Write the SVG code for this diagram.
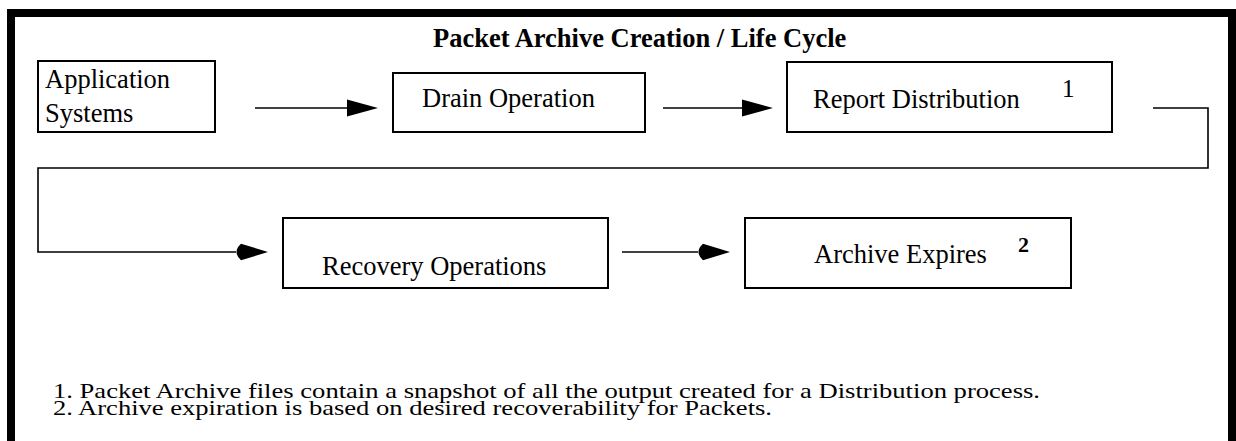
<svg xmlns="http://www.w3.org/2000/svg" width="1236" height="441" viewBox="0 0 1236 441">
<style>
text{font-family:"Liberation Serif","Times New Roman","DejaVu Serif",serif;fill:#000}
.lbl{font-size:26.5px}
.box{fill:#fff;stroke:#000;stroke-width:2}
.ln{fill:none;stroke:#000;stroke-width:1.6}
.note{font-size:21px}
</style>
<defs>
<marker id="tri" markerUnits="userSpaceOnUse" viewBox="0 0 31 17" markerWidth="31" markerHeight="17" refX="0" refY="8.5" orient="auto" overflow="visible">
<path d="M0,0 L31,8.5 L0,17 Z" fill="#000"/>
</marker>
<marker id="dart" markerUnits="userSpaceOnUse" viewBox="0 0 33 17" markerWidth="33" markerHeight="17" refX="1" refY="8.5" orient="auto" overflow="visible">
<path d="M33,8.5 L6,0.3 Q-3,8.5 6,16.7 Z" fill="#000"/>
</marker>
</defs>
<rect x="0" y="0" width="1236" height="441" fill="#fff"/>
<rect id="frame" x="11" y="13" width="1221" height="500" fill="none" stroke="#000" stroke-width="8"/>
<g font-family="Liberation Serif, Times New Roman, serif">
<text id="title" x="433" y="47" font-size="26.5" font-weight="bold">Packet Archive Creation / Life Cycle</text>
<g id="connectors">
<path class="ln" d="M255,108 H347" marker-end="url(#tri)"/>
<path class="ln" d="M663,108 H742" marker-end="url(#tri)"/>
<path class="ln" d="M1153,108 H1208 V168 H38 V252 H236" stroke-width="2" marker-end="url(#dart)"/>
<path class="ln" d="M622,252 H698" marker-end="url(#dart)"/>
</g>
<g id="app">
<rect class="box" x="38" y="61" width="177" height="71"/>
<text class="lbl" x="45" y="88">Application</text>
<text class="lbl" x="45" y="122">Systems</text>
</g>
<g id="drain">
<rect class="box" x="393" y="73" width="252" height="59"/>
<text class="lbl" x="422" y="107">Drain Operation</text>
</g>
<g id="report">
<rect class="box" x="787" y="62" width="325" height="70"/>
<text class="lbl" x="813" y="108">Report Distribution</text>
<text x="1062" y="97" font-size="25">1</text>
</g>
<g id="recovery">
<rect class="box" x="283" y="218" width="325" height="70"/>
<text class="lbl" x="322" y="275">Recovery Operations</text>
</g>
<g id="expires">
<rect class="box" x="745" y="218" width="326" height="70"/>
<text class="lbl" x="814" y="263">Archive Expires</text>
<text x="1018" y="252" font-size="22" font-weight="bold">2</text>
</g>
<g id="notes">
<text class="note" x="53" y="398" textLength="987" lengthAdjust="spacingAndGlyphs">1. Packet Archive files contain a snapshot of all the output created for a Distribution process.</text>
<text class="note" x="53" y="415" textLength="719" lengthAdjust="spacingAndGlyphs">2. Archive expiration is based on desired recoverability for Packets.</text>
</g>
</g>
</svg>
